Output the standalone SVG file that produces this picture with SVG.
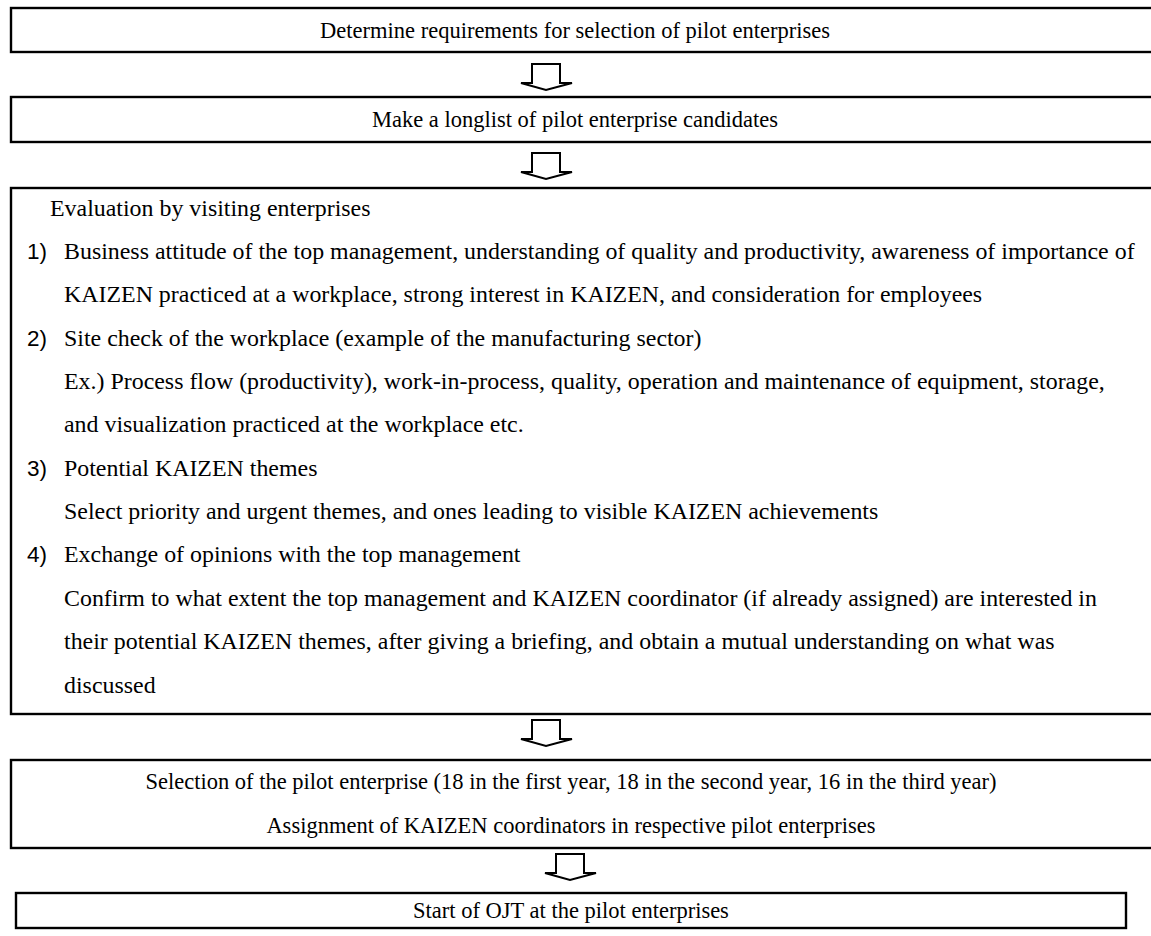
<svg xmlns="http://www.w3.org/2000/svg" width="1151" height="936" viewBox="0 0 1151 936">
  <style>
    .box { fill: #ffffff; stroke: #000000; stroke-width: 2.4; }
    .arrow { fill: #ffffff; stroke: #000000; stroke-width: 2; stroke-linejoin: miter; }
    .t { font-family: "Liberation Serif", "Times New Roman", serif; font-size: 22.5px; fill: #000000; }
    .b { font-family: "Liberation Serif", "Times New Roman", serif; font-size: 23.9px; fill: #000000; }
    .c { text-anchor: middle; }
    .num { font-family: "Liberation Sans", Arial, sans-serif; font-size: 22.5px; fill: #000000; }
  </style>
  <defs>
    <!-- hollow block arrow pointing down, origin at its horizontal centre / top -->
    <path id="downArrow" class="arrow" d="M -14 0 L 14 0 L 14 19 L 26 19 L 0 26 L -25 19 L -14 19 Z"/>
  </defs>

  <rect width="1151" height="936" fill="#ffffff"/>

  <g id="step-requirements">
    <rect class="box" x="11" y="8" width="1160" height="44"/>
    <text class="t c" x="575" y="38">Determine requirements for selection of pilot enterprises</text>
  </g>

  <g id="step-longlist">
    <rect class="box" x="11" y="97" width="1160" height="45"/>
    <text class="t c" x="575" y="127">Make a longlist of pilot enterprise candidates</text>
  </g>

  <g id="step-evaluation">
    <rect class="box" x="11" y="188" width="1160" height="526"/>
    <text class="b" x="50" y="216">Evaluation by visiting enterprises</text>
    <text class="num" x="27" y="259">1)</text>
    <text class="b" x="64" y="259">Business attitude of the top management, understanding of quality and productivity, awareness of importance of</text>
    <text class="b" x="64" y="302">KAIZEN practiced at a workplace, strong interest in KAIZEN, and consideration for employees</text>
    <text class="num" x="27" y="346">2)</text>
    <text class="b" x="64" y="346">Site check of the workplace (example of the manufacturing sector)</text>
    <text class="b" x="64" y="389">Ex.) Process flow (productivity), work-in-process, quality, operation and maintenance of equipment, storage,</text>
    <text class="b" x="64" y="432">and visualization practiced at the workplace etc.</text>
    <text class="num" x="27" y="476">3)</text>
    <text class="b" x="64" y="476">Potential KAIZEN themes</text>
    <text class="b" x="64" y="519">Select priority and urgent themes, and ones leading to visible KAIZEN achievements</text>
    <text class="num" x="27" y="562">4)</text>
    <text class="b" x="64" y="562">Exchange of opinions with the top management</text>
    <text class="b" x="64" y="606">Confirm to what extent the top management and KAIZEN coordinator (if already assigned) are interested in</text>
    <text class="b" x="64" y="649">their potential KAIZEN themes, after giving a briefing, and obtain a mutual understanding on what was</text>
    <text class="b" x="64" y="693">discussed</text>
  </g>

  <g id="step-selection">
    <rect class="box" x="11" y="760" width="1160" height="88"/>
    <text class="t c" x="571" y="789">Selection of the pilot enterprise (18 in the first year, 18 in the second year, 16 in the third year)</text>
    <text class="t c" x="571" y="833">Assignment of KAIZEN coordinators in respective pilot enterprises</text>
  </g>

  <g id="step-ojt">
    <rect class="box" x="16" y="893" width="1110" height="35"/>
    <text class="t c" x="571" y="918">Start of OJT at the pilot enterprises</text>
  </g>

  <g id="connectors">
    <use href="#downArrow" x="546" y="64"/>
    <use href="#downArrow" x="546" y="153"/>
    <use href="#downArrow" x="546" y="720"/>
    <use href="#downArrow" x="570" y="854"/>
  </g>
</svg>
